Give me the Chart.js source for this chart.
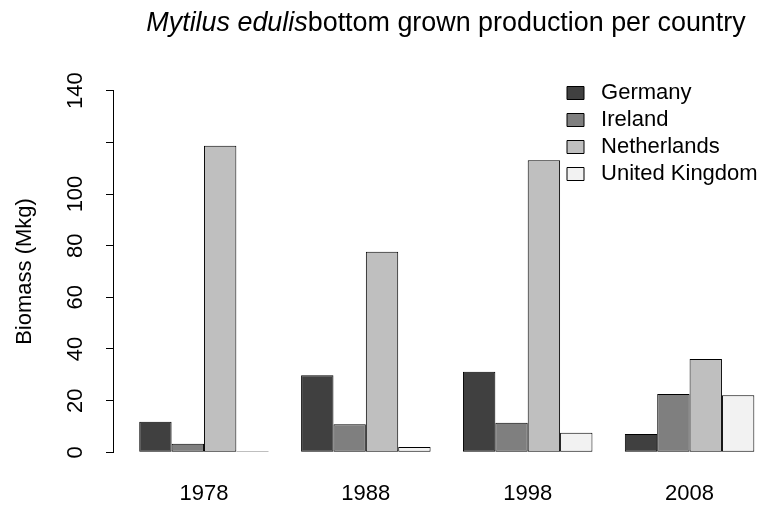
<!DOCTYPE html>
<html>
<head>
<meta charset="utf-8">
<script src="https://cdn.jsdelivr.net/npm/chart.js@4.4.1/dist/chart.umd.min.js"></script>
<style>
  html, body { margin: 0; padding: 0; background: #fff; }
  #wrap { position: relative; width: 771px; height: 510px; }
  #grafico { display: block; }
  #titulo {
    position: absolute; top: 9.4px; left: 446px; transform: translateX(-50%);
    font: 26.9px "Liberation Sans", Arial, Helvetica, sans-serif; line-height: 1;
    white-space: nowrap; color: #000;
  }
</style>
</head>
<body>
<div id="wrap">
  <div id="titulo"><i>Mytilus edulis</i>bottom grown production per country</div>
  <canvas id="grafico" width="771" height="510"></canvas>
</div>
<script>
// dados (Mkg)
const anos = ['1978', '1988', '1998', '2008'];
const germany = [11.8, 29.8, 31.2, 7.1];
const ireland = [3.3, 10.9, 11.4, 22.6];
const netherlands = [118.7, 77.6, 113.1, 36.1];
const unitedKingdom = [0, 2.1, 7.6, 22.1];
const yTicks = [0, 20, 40, 60, 80, 100, 120, 140];
const yTickLabels = ['0', '20', '40', '60', '80', '100', '', '140']; // o 120 não aparece no original

Chart.defaults.font.family = '"Liberation Sans", Arial, Helvetica, sans-serif';
Chart.defaults.font.size = 22;
Chart.defaults.color = '#000';

function serie(nome, valores, cor) {
    return {
        label: nome,
        data: valores.map((v, i) => ({ x: i, y: v })),
        backgroundColor: cor,
        borderColor: '#000',
        borderWidth: 1,
        borderSkipped: false, // desenha o retângulo inteiro, como no R
        minBarLength: 1,
        categoryPercentage: 0.8,
        barPercentage: 1
    }
}

// coloca a legenda dentro da área do gráfico, no canto superior direito
const posicionaLegenda = {
    id: 'posicionaLegenda',
    afterLayout(chart) {
        const leg = chart.legend;
        leg.left = 562;
        leg.top = 77;
        leg.right = 771;
        leg.bottom = 510;
    }
};

const ctx = document.getElementById('grafico').getContext('2d');

new Chart(ctx, {
    type: 'bar',
    data: {
        datasets: [
            serie('Germany', germany, '#404040'),
            serie('Ireland', ireland, '#7f7f7f'),
            serie('Netherlands', netherlands, '#bfbfbf'),
            serie('United Kingdom', unitedKingdom, '#f2f2f2')
        ]
    },
    options: {
        responsive: false,
        animation: false,
        layout: { padding: { top: 90.7, left: 0, right: 0, bottom: 0 } },
        scales: {
            x: {
                type: 'linear',
                offset: false,
                min: -0.562,
                max: 3.503,
                afterBuildTicks: s => { s.ticks = anos.map((a, i) => ({ value: i })); },
                afterFit: s => { s.height = 57.7; },
                grid: { display: false, drawTicks: false },
                border: { display: false },
                ticks: {
                    padding: 28,
                    maxRotation: 0,
                    autoSkip: false,
                    callback: v => anos[v]
                }
            },
            y: {
                min: 0,
                max: 140,
                afterBuildTicks: s => { s.ticks = yTicks.map(v => ({ value: v })); },
                afterFit: s => { s.width = 113; },
                border: { display: true, color: '#000', width: 1 },
                grid: { drawOnChartArea: false, drawTicks: true, tickLength: 7, color: '#000', lineWidth: 1 },
                ticks: {
                    minRotation: 90,
                    maxRotation: 90,
                    crossAlign: 'center',
                    padding: 12,
                    callback: (v, i) => yTickLabels[i]
                },
                title: {
                    display: true,
                    text: 'Biomass (Mkg)',
                    padding: { top: 12, bottom: 0 }
                }
            }
        },
        plugins: {
            legend: {
                position: 'chartArea',
                align: 'start',
                labels: {
                    boxWidth: 17,
                    boxHeight: 13,
                    padding: 5,
                    generateLabels: chart =>
                        Chart.defaults.plugins.legend.labels.generateLabels(chart)
                            .map(item => Object.assign(item, { text: ' ' + item.text }))
                }
            },
            tooltip: { enabled: false }
        }
    },
    plugins: [posicionaLegenda]
});
</script>
</body>
</html>
